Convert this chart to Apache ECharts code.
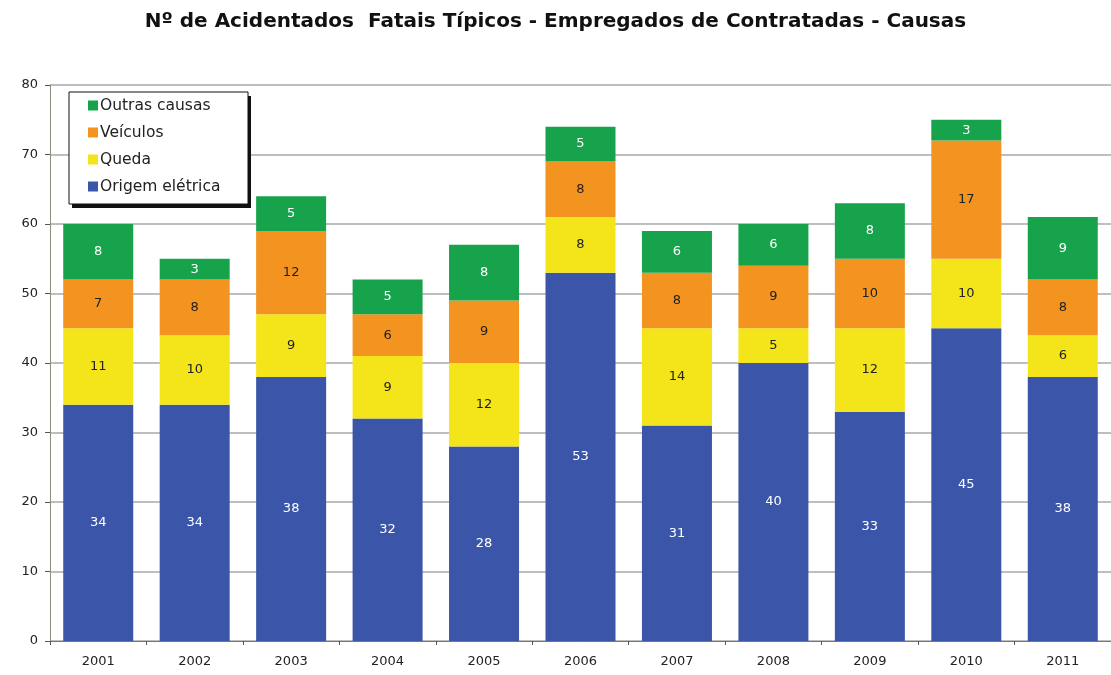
<!DOCTYPE html>
<html>
<head>
<meta charset="utf-8">
<script src="https://cdn.jsdelivr.net/npm/echarts@6/dist/echarts.min.js"></script>
<style>
  html, body { margin: 0; padding: 0; background: #fff; }
  #chart { width: 1111px; height: 675px; }
</style>
</head>
<body>
<div id="chart"></div>
<script>
// data
var years = ["2001", "2002", "2003", "2004", "2005", "2006", "2007", "2008", "2009", "2010", "2011"];
var origemEletrica = [34, 34, 38, 32, 28, 53, 31, 40, 33, 45, 38];
var queda = [11, 10, 9, 9, 12, 8, 14, 5, 12, 10, 6];
var veiculos = [7, 8, 12, 6, 9, 8, 8, 9, 10, 17, 8];
var outrasCausas = [8, 3, 5, 5, 8, 5, 6, 6, 8, 3, 9];

var font = "DejaVu Sans";

function barSeries(name, data, color, labelColor) {
  return {
    name: name,
    type: "bar",
    stack: "total",
    data: data,
    barWidth: 70,
    itemStyle: { color: color },
    label: {
      show: true,
      position: "inside",
      color: labelColor,
      fontFamily: font,
      fontSize: 13
    }
  };
}

var chart = echarts.init(document.getElementById("chart"));
chart.setOption({
  animation: false,
  backgroundColor: "#fff",
  title: {
    text: "Nº de Acidentados  Fatais Típicos - Empregados de Contratadas - Causas",
    left: "center",
    top: 7,
    textStyle: { fontFamily: font, fontSize: 20, fontWeight: "bold", color: "#111" }
  },
  // legend frame with its dark drop shadow
  graphic: [
    { type: "rect", z: 50, shape: { x: 72, y: 96, width: 179, height: 112 }, style: { fill: "#111" } },
    { type: "rect", z: 51, shape: { x: 69, y: 92, width: 179, height: 112 }, style: { fill: "#fff", stroke: "#111", lineWidth: 1 } }
  ],
  legend: {
    z: 60,
    orient: "vertical",
    left: 82,
    top: 97,
    data: ["Outras causas", "Veículos", "Queda", "Origem elétrica"],
    icon: "rect",
    itemWidth: 10,
    itemHeight: 10,
    itemGap: 10,
    itemStyle: { borderWidth: 0 },
    padding: [0, 0, 0, 6],
    textStyle: { fontFamily: font, fontSize: 15.5, color: "#222", lineHeight: 17, padding: [0, 0, 0, -3] }
  },
  grid: { left: 50, top: 85, width: 1070, height: 556 },
  xAxis: {
    type: "category",
    data: years,
    axisLine: { lineStyle: { color: "#777" } },
    axisTick: { show: true, length: 4, lineStyle: { color: "#555" } },
    axisLabel: { fontFamily: font, fontSize: 13, color: "#222", margin: 14 }
  },
  yAxis: {
    type: "value",
    min: 0,
    max: 80,
    interval: 10,
    axisLine: { show: true, lineStyle: { color: "#889080" } },
    axisTick: { show: true, length: 5, lineStyle: { color: "#555" } },
    axisLabel: { fontFamily: font, fontSize: 13, color: "#222", margin: 12 },
    splitLine: { lineStyle: { color: "#a8a8a8", width: 1.5 } }
  },
  series: [
    barSeries("Origem elétrica", origemEletrica, "#3b56a8", "#fff"),
    barSeries("Queda", queda, "#f4e51a", "#222"),
    barSeries("Veículos", veiculos, "#f39320", "#222"),
    barSeries("Outras causas", outrasCausas, "#17a34b", "#fff")
  ]
});
</script>
</body>
</html>
